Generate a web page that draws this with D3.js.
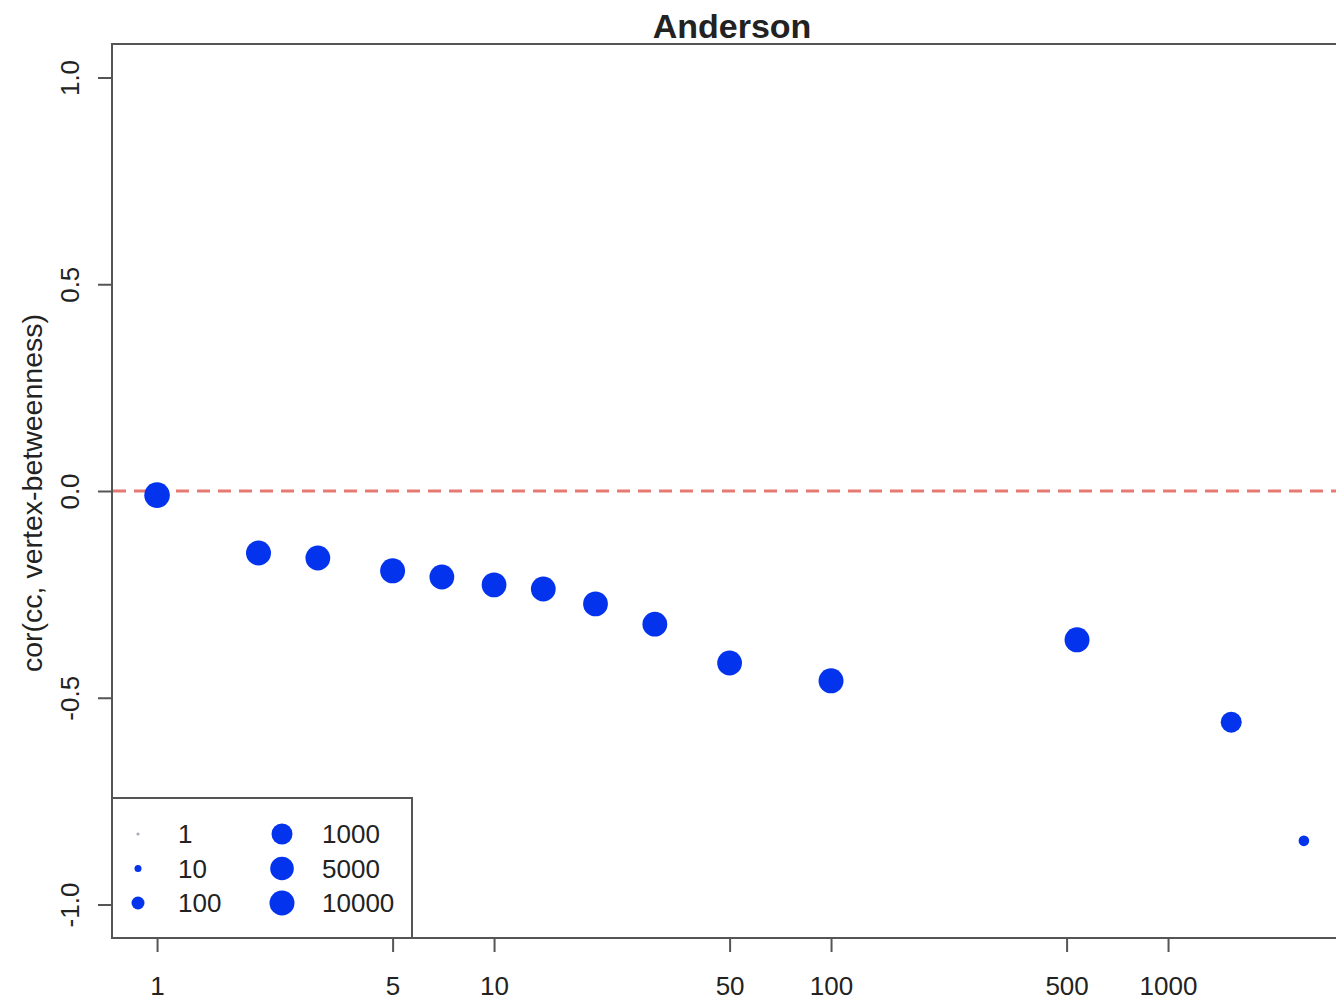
<!DOCTYPE html>
<html>
<head>
<meta charset="utf-8">
<script src="https://cdn.jsdelivr.net/npm/d3@7"></script>
<style>
  body { margin: 0; background: #fff; }
  text { font-family: "Liberation Sans", Arial, sans-serif; fill: #222; }
</style>
</head>
<body>
<script>
// data
var xValues = [1, 2, 3, 5, 7, 10, 14, 20, 30, 50, 100, 537, 1540, 2530];
var corValues = [-0.01, -0.15, -0.162, -0.193, -0.208, -0.227, -0.237, -0.273, -0.322, -0.416, -0.459, -0.36, -0.559, -0.846];
var counts = [13000, 10000, 9000, 10000, 9000, 9000, 9000, 9000, 9000, 9000, 10000, 10000, 1000, 40];
var xTicks = [1, 5, 10, 50, 100, 500, 1000];
var yTicks = [-1.0, -0.5, 0.0, 0.5, 1.0];
var legendSizes = [1, 10, 100, 1000, 5000, 10000];

var width = 1336, height = 1002;
var svg = d3.select("body").append("svg")
    .attr("width", width)
    .attr("height", height);

var x = d3.scaleLog().domain([0.735, 3238]).range([112, 1340]);
var y = d3.scaleLinear().domain([-1.081, 1.081]).range([938, 44]);
var r = d3.scaleLog().domain(legendSizes).range([1.6, 3.5, 6.5, 10.5, 11.8, 12.5]);

var dotColor = "#0433ee";

// plot frame
svg.append("rect")
    .attr("x", 112).attr("y", 44)
    .attr("width", 1240).attr("height", 894)
    .attr("fill", "none").attr("stroke", "#555").attr("stroke-width", 2);

// x axis
var xAxis = svg.append("g").attr("transform", "translate(0,938)")
    .call(d3.axisBottom(x).tickValues(xTicks).tickFormat(d3.format("d")).tickSize(14).tickSizeOuter(0));
xAxis.select(".domain").remove();
xAxis.selectAll("line").attr("stroke", "#555").attr("stroke-width", 2);
xAxis.selectAll("text").attr("font-size", 26).attr("dy", "1.55em").attr("fill", "#222");

// y axis (hyphen instead of unicode minus, like R)
var yAxis = svg.append("g").attr("transform", "translate(112,0)")
    .call(d3.axisLeft(y).tickValues(yTicks)
        .tickFormat(function(d) { return d.toFixed(1); })
        .tickSize(14).tickSizeOuter(0));
yAxis.select(".domain").remove();
yAxis.selectAll("line").attr("stroke", "#555").attr("stroke-width", 2);
yAxis.selectAll("text")
    .attr("font-size", 26).attr("fill", "#222")
    .attr("text-anchor", "middle")
    .attr("x", 0).attr("dy", 0)
    .attr("transform", "translate(-33,0) rotate(-90)");

// reference line at zero
svg.append("line")
    .attr("x1", 113).attr("x2", width)
    .attr("y1", y(0)).attr("y2", y(0))
    .attr("stroke", "#e67a72").attr("stroke-width", 3)
    .attr("stroke-dasharray", "13,8");

// points
svg.append("g").selectAll("circle")
    .data(xValues).enter()
    .append("circle")
    .attr("cx", function(d) { return x(d); })
    .attr("cy", function(d, i) { return y(corValues[i]); })
    .attr("r", function(d, i) { return r(counts[i]); })
    .attr("fill", dotColor);

// title and y label
svg.append("text")
    .attr("x", 732).attr("y", 38)
    .attr("text-anchor", "middle")
    .attr("font-size", 34).attr("font-weight", "bold")
    .attr("fill", "#111")
    .text("Anderson");

svg.append("text")
    .attr("transform", "translate(42,493) rotate(-90)")
    .attr("x", 0)
    .attr("text-anchor", "middle")
    .attr("font-size", 28.5)
    .attr("fill", "#333")
    .text("cor(cc, vertex-betweenness)");

// legend
var legend = svg.append("g");
legend.append("rect")
    .attr("x", 112).attr("y", 798)
    .attr("width", 300).attr("height", 140)
    .attr("fill", "#fff").attr("stroke", "#555").attr("stroke-width", 2);

var items = legend.selectAll("g.item")
    .data(legendSizes).enter()
    .append("g")
    .attr("transform", function(d, i) {
        var col = Math.floor(i / 3), row = i % 3;
        return "translate(" + (col === 0 ? 138 : 282) + "," + (834 + row * 34.5) + ")";
    });
items.append("circle")
    .attr("r", function(d) { return r(d); })
    .attr("fill", function(d) { return d === 1 ? "#aab" : dotColor; });
items.append("text")
    .attr("x", 40).attr("dy", "0.36em")
    .attr("font-size", 26)
    .text(function(d) { return d; });
</script>
</body>
</html>
